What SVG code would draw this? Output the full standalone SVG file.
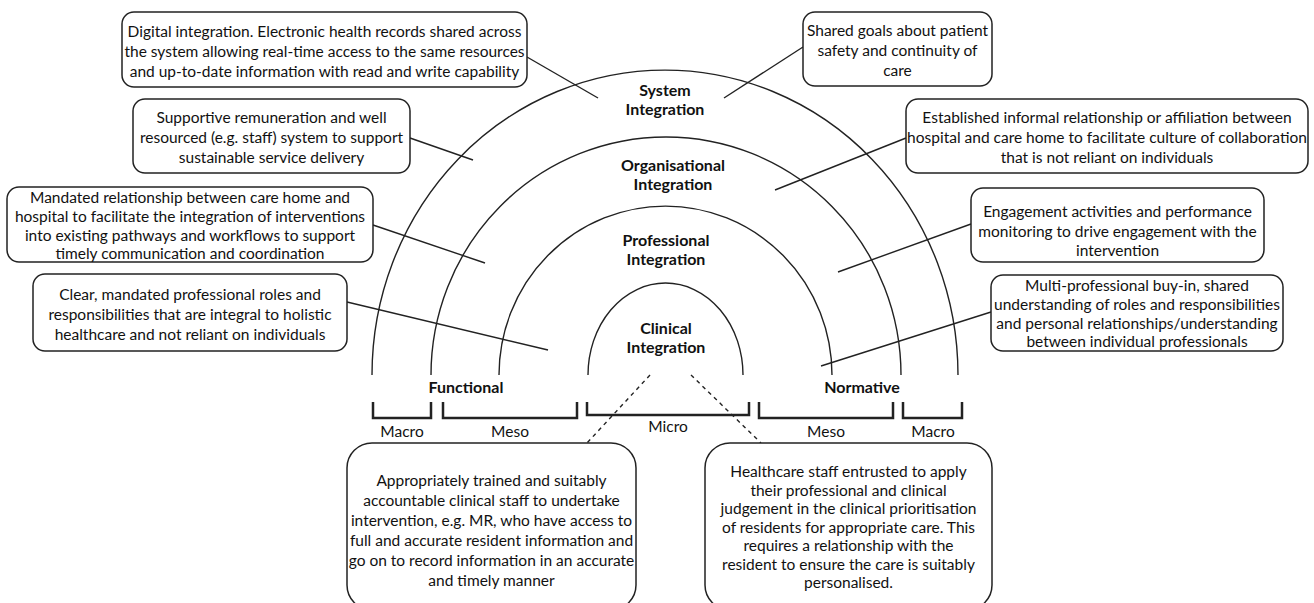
<svg xmlns="http://www.w3.org/2000/svg" width="1314" height="603" viewBox="0 0 1314 603">
<style>
.box{fill:#fff;stroke:#222;stroke-width:1.5}
.t{font-family:Lato,"Liberation Sans",sans-serif;font-size:15.5px;fill:#111;text-anchor:middle}
.b{font-family:Lato,"Liberation Sans",sans-serif;font-size:16px;font-weight:bold;fill:#111;text-anchor:middle}
.arc{fill:none;stroke:#222;stroke-width:1.4}
.ln{fill:none;stroke:#222;stroke-width:1.4}
.dash{fill:none;stroke:#222;stroke-width:1.4;stroke-dasharray:4 4}
.br{fill:none;stroke:#222;stroke-width:2.5}
</style>
<rect width="1314" height="603" fill="#fff"/>
<g id="rings">
<path class="arc" d="M372 375 A293 305 0 0 1 958 375"/>
<path class="arc" d="M431 375 A235 238 0 0 1 901 375"/>
<path class="arc" d="M499 375 A166.5 169 0 0 1 832 375"/>
<path class="arc" d="M588 375 A77.5 92 0 0 1 743 375"/>
<text class="b" x="665" y="96">System</text>
<text class="b" x="665" y="115">Integration</text>
<text class="b" x="673" y="171">Organisational</text>
<text class="b" x="673" y="190">Integration</text>
<text class="b" x="666" y="246">Professional</text>
<text class="b" x="666" y="265">Integration</text>
<text class="b" x="666" y="334">Clinical</text>
<text class="b" x="666" y="353">Integration</text>
<text class="b" x="466" y="393">Functional</text>
<text class="b" x="862" y="393">Normative</text>
</g>
<g id="scale">
<path class="br" d="M373 402 V418 H431 V402"/>
<path class="br" d="M443 402 V418 H577 V402"/>
<path class="br" d="M587 402 V415 H749 V402"/>
<path class="br" d="M759 402 V418 H893 V402"/>
<path class="br" d="M903 402 V418 H962 V402"/>
<text class="t" x="402" y="437">Macro</text>
<text class="t" x="510" y="437">Meso</text>
<text class="t" x="668" y="432">Micro</text>
<text class="t" x="826" y="437">Meso</text>
<text class="t" x="933" y="437">Macro</text>
</g>
<g id="connectors">
<line class="ln" x1="527" y1="57" x2="598" y2="98"/>
<line class="ln" x1="803" y1="47" x2="724" y2="98"/>
<line class="ln" x1="410" y1="138" x2="473" y2="160"/>
<line class="ln" x1="906" y1="138" x2="775" y2="190"/>
<line class="ln" x1="373" y1="225" x2="485" y2="263"/>
<line class="ln" x1="971" y1="224" x2="838" y2="272"/>
<line class="ln" x1="347" y1="302" x2="548" y2="350"/>
<line class="ln" x1="991" y1="312" x2="821" y2="366"/>
<line class="dash" x1="650" y1="375" x2="587" y2="443"/>
<line class="dash" x1="691" y1="375" x2="761" y2="443"/>
</g>
<g id="box-digital">
<rect class="box" x="122" y="12" width="405" height="75" rx="12"/>
<text class="t" x="324.5" y="36.5">Digital integration. Electronic health records shared across</text>
<text class="t" x="324.5" y="56.5">the system allowing real-time access to the same resources</text>
<text class="t" x="324.5" y="76.5">and up-to-date information with read and write capability</text>
</g>
<g id="box-goals">
<rect class="box" x="803" y="12" width="189" height="74" rx="12"/>
<text class="t" x="897.5" y="36">Shared goals about patient</text>
<text class="t" x="897.5" y="56">safety and continuity of</text>
<text class="t" x="897.5" y="76">care</text>
</g>
<g id="box-supportive">
<rect class="box" x="133" y="99" width="277" height="74" rx="12"/>
<text class="t" x="271.5" y="123">Supportive remuneration and well</text>
<text class="t" x="271.5" y="143">resourced (e.g. staff) system to support</text>
<text class="t" x="271.5" y="163">sustainable service delivery</text>
</g>
<g id="box-established">
<rect class="box" x="906" y="99" width="402" height="74" rx="12"/>
<text class="t" x="1107" y="123">Established informal relationship or affiliation between</text>
<text class="t" x="1107" y="143">hospital and care home to facilitate culture of collaboration</text>
<text class="t" x="1107" y="163">that is not reliant on individuals</text>
</g>
<g id="box-mandated">
<rect class="box" x="7" y="187" width="366" height="75" rx="12"/>
<text class="t" x="190" y="203">Mandated relationship between care home and</text>
<text class="t" x="190" y="222">hospital to facilitate the integration of interventions</text>
<text class="t" x="190" y="241">into existing pathways and workflows to support</text>
<text class="t" x="190" y="259">timely communication and coordination</text>
</g>
<g id="box-clear">
<rect class="box" x="33" y="274" width="314" height="77" rx="12"/>
<text class="t" x="190" y="299.5">Clear, mandated professional roles and</text>
<text class="t" x="190" y="319.5">responsibilities that are integral to holistic</text>
<text class="t" x="190" y="339.5">healthcare and not reliant on individuals</text>
</g>
<g id="box-engagement">
<rect class="box" x="971" y="188" width="293" height="74" rx="12"/>
<text class="t" x="1117.5" y="217">Engagement activities and performance</text>
<text class="t" x="1117.5" y="236.5">monitoring to drive engagement with the</text>
<text class="t" x="1117.5" y="256">intervention</text>
</g>
<g id="box-multi">
<rect class="box" x="991" y="275" width="292" height="76" rx="12"/>
<text class="t" x="1137" y="291">Multi-professional buy-in, shared</text>
<text class="t" x="1137" y="310">understanding of roles and responsibilities</text>
<text class="t" x="1137" y="329">and personal relationships/understanding</text>
<text class="t" x="1137" y="347">between individual professionals</text>
</g>
<g id="box-clinical-staff">
<rect class="box" x="347" y="443" width="289" height="167" rx="25"/>
<text class="t" x="491.5" y="486">Appropriately trained and suitably</text>
<text class="t" x="491.5" y="506">accountable clinical staff  to undertake</text>
<text class="t" x="491.5" y="526">intervention, e.g. MR, who have access to</text>
<text class="t" x="491.5" y="546">full and accurate resident information and</text>
<text class="t" x="491.5" y="566">go on to record information in an accurate</text>
<text class="t" x="491.5" y="586">and timely manner</text>
</g>
<g id="box-healthcare-staff">
<rect class="box" x="705" y="443" width="287" height="167" rx="25"/>
<text class="t" x="848.5" y="477">Healthcare staff entrusted to apply</text>
<text class="t" x="848.5" y="495.5">their professional and clinical</text>
<text class="t" x="848.5" y="514">judgement in the clinical prioritisation</text>
<text class="t" x="848.5" y="532.5">of residents for appropriate care. This</text>
<text class="t" x="848.5" y="551">requires a relationship with the</text>
<text class="t" x="848.5" y="569.5">resident to ensure the care is suitably</text>
<text class="t" x="848.5" y="588">personalised.</text>
</g>
</svg>
